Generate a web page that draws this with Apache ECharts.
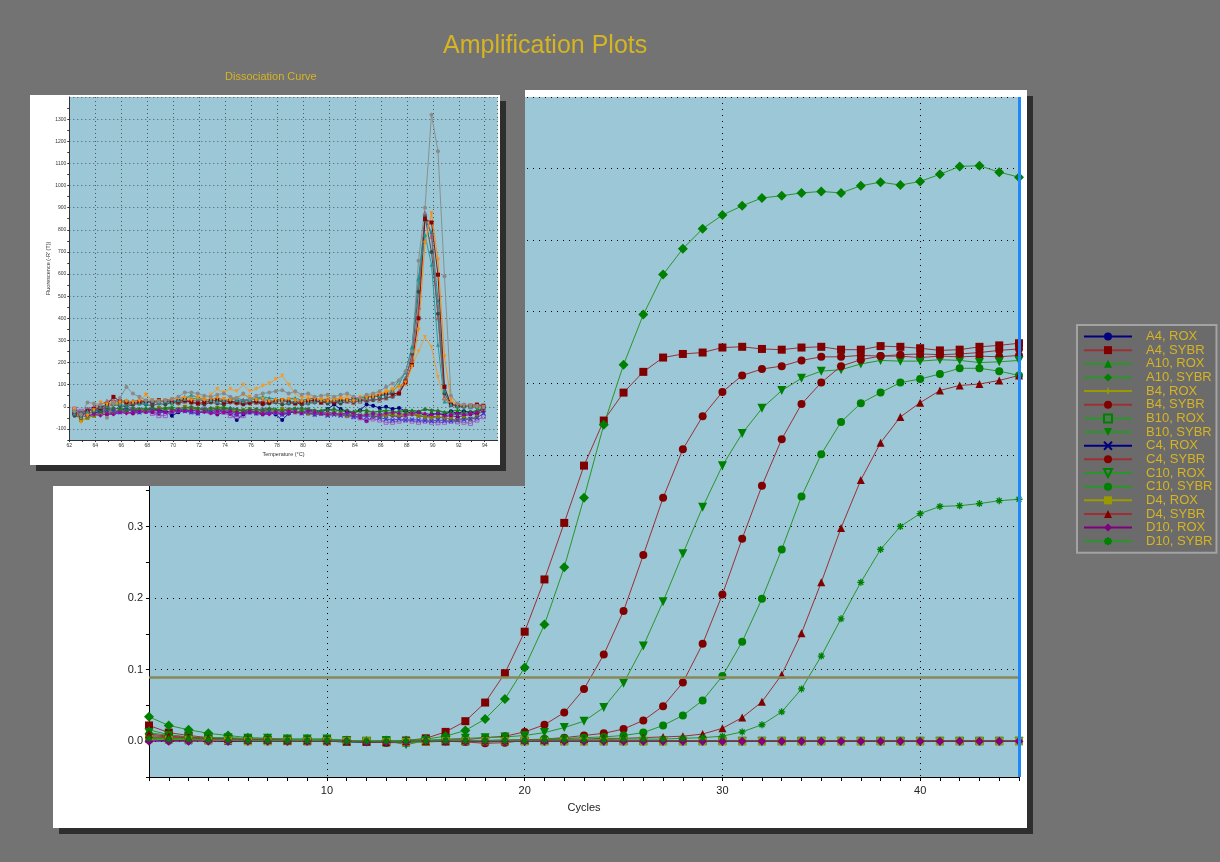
<!DOCTYPE html>
<html>
<head>
<meta charset="utf-8">
<title>Amplification Plots</title>
<script src="https://cdn.jsdelivr.net/npm/echarts@6/dist/echarts.min.js"></script>
<style>
  html, body { margin: 0; padding: 0; background: #737373; }
  #chart { width: 1220px; height: 862px; }
</style>
</head>
<body>
<div id="chart"></div>
<script>
// ---- amplification data (cycles 1..45) ----
const cycles = [1,2,3,4,5,6,7,8,9,10,11,12,13,14,15,16,17,18,19,20,21,22,23,24,25,26,27,28,29,30,31,32,33,34,35,36,37,38,39,40,41,42,43,44,45]

const a4Rox = [0.002,0.001,0.001,0.001,0.000,0.000,0.000,0.000,0.000,0.000,
  0.000,-0.001,-0.001,-0.001,0.000,0.000,0.000,-0.001,0.000,0.000,
  0.000,0.000,0.000,0.000,0.000,0.000,0.000,0.000,0.000,0.000,
  0.000,0.000,0.000,0.000,0.000,0.000,0.000,0.000,0.000,0.000,
  0.000,0.000,0.000,0.000,0.000]
const a4Sybr = [0.022,0.012,0.008,0.005,0.004,0.003,0.002,0.002,0.001,0.002,
  0.001,0.000,0.000,0.001,0.004,0.013,0.028,0.054,0.095,0.153,
  0.226,0.305,0.385,0.448,0.487,0.516,0.536,0.541,0.543,0.550,
  0.551,0.548,0.547,0.550,0.551,0.547,0.547,0.552,0.551,0.549,
  0.546,0.547,0.551,0.553,0.556]
const a10Rox = [0.016,0.009,0.006,0.004,0.003,0.002,0.002,0.001,0.001,0.001,
  0.000,-0.001,-0.001,-0.001,0.000,0.000,0.000,0.000,0.000,0.001,
  0.001,0.001,0.001,0.001,0.001,0.001,0.001,0.001,0.001,0.001,
  0.001,0.001,0.001,0.001,0.001,0.001,0.001,0.001,0.001,0.001,
  0.001,0.001,0.001,0.001,0.001]
const a10Sybr = [0.034,0.022,0.016,0.011,0.008,0.005,0.004,0.003,0.003,0.003,
  0.001,0.000,0.001,0.001,0.003,0.007,0.015,0.031,0.059,0.103,
  0.163,0.243,0.340,0.442,0.526,0.596,0.652,0.688,0.716,0.735,
  0.748,0.759,0.762,0.766,0.768,0.766,0.776,0.781,0.777,0.782,
  0.792,0.803,0.804,0.795,0.788]
const b4Rox = [0.004,0.002,0.001,0.001,0.001,0.000,0.000,0.000,0.000,0.000,
  0.000,0.000,-0.001,-0.001,0.000,0.000,0.000,0.000,0.000,0.000,
  0.000,0.000,0.000,0.000,0.000,0.000,0.000,0.000,0.000,0.000,
  0.000,0.000,0.000,0.000,0.000,0.000,0.000,0.000,0.000,0.000,
  0.000,0.000,0.000,0.000,0.000]
const b4Sybr = [0.008,0.006,0.005,0.004,0.003,0.002,0.002,0.001,0.001,0.001,
  0.000,-0.001,-0.001,0.000,0.001,0.002,0.002,0.005,0.007,0.013,
  0.023,0.040,0.073,0.121,0.182,0.260,0.340,0.408,0.454,0.488,
  0.511,0.520,0.524,0.532,0.537,0.537,0.539,0.538,0.538,0.536,
  0.538,0.537,0.538,0.537,0.539]
const b10Rox = [0.006,0.004,0.003,0.002,0.002,0.001,0.001,0.001,0.000,0.000,
  -0.001,-0.001,-0.002,-0.002,-0.001,0.000,0.000,0.000,0.000,0.000,
  0.000,0.000,0.000,0.000,0.000,0.000,0.000,0.000,0.000,0.000,
  0.000,0.000,0.000,0.000,0.000,0.000,0.000,0.000,0.000,0.000,
  0.000,0.000,0.000,0.000,0.000]
const b10Sybr = [0.012,0.008,0.006,0.005,0.005,0.004,0.004,0.003,0.003,0.003,
  0.001,0.000,0.001,-0.005,0.001,0.003,0.004,0.005,0.006,0.008,
  0.012,0.019,0.028,0.047,0.081,0.133,0.195,0.262,0.327,0.385,
  0.430,0.465,0.490,0.507,0.517,0.519,0.527,0.532,0.531,0.531,
  0.533,0.532,0.529,0.530,0.532]
const c4Rox = [0.003,0.002,0.001,0.001,0.000,0.000,0.000,0.000,0.000,0.000,
  -0.001,-0.001,-0.001,0.000,0.000,0.000,0.000,0.000,0.000,0.000,
  0.000,0.000,0.000,0.000,0.000,0.000,0.000,0.000,0.000,0.000,
  0.000,0.000,0.000,0.000,0.000,0.000,0.000,0.000,0.000,0.000,
  0.000,0.000,0.000,0.000,0.000]
const c4Sybr = [0.006,0.005,0.004,0.003,0.002,0.002,0.001,0.001,0.001,0.001,
  0.000,-0.001,-0.002,-0.001,0.000,0.000,-0.001,-0.003,-0.002,0.001,
  0.003,0.005,0.008,0.011,0.017,0.029,0.049,0.082,0.136,0.205,
  0.283,0.357,0.422,0.471,0.501,0.524,0.533,0.538,0.540,0.541,
  0.540,0.541,0.543,0.546,0.548]
const c10Rox = [0.005,0.003,0.002,0.002,0.001,0.001,0.000,0.000,0.000,0.000,
  0.000,-0.001,-0.001,-0.001,0.000,0.000,0.000,0.000,0.000,0.000,
  0.000,0.000,0.000,0.000,0.000,0.000,0.000,0.000,0.000,0.000,
  0.000,0.000,0.000,0.000,0.000,0.000,0.000,0.000,0.000,0.000,
  0.000,0.000,0.000,0.000,0.000]
const c10Sybr = [0.005,0.004,0.003,0.003,0.002,0.002,0.001,0.001,0.001,0.001,
  0.000,0.000,0.000,0.000,0.001,0.001,0.001,0.001,0.002,0.002,
  0.003,0.004,0.005,0.006,0.008,0.012,0.022,0.036,0.057,0.091,
  0.139,0.199,0.268,0.342,0.401,0.446,0.472,0.487,0.501,0.506,
  0.513,0.521,0.521,0.517,0.511]
const d4Rox = [0.003,0.002,0.002,0.001,0.001,0.000,0.000,0.000,0.000,0.000,
  0.000,0.000,-0.001,-0.001,-0.001,0.000,0.000,0.000,0.000,0.000,
  0.000,0.000,0.000,0.000,0.000,0.000,0.000,0.000,0.000,0.000,
  0.000,0.000,0.000,0.000,0.000,0.000,0.000,0.000,0.000,0.000,
  0.000,0.000,0.000,0.000,0.000]
const d4Sybr = [0.010,0.007,0.005,0.004,0.003,0.002,0.002,0.001,0.001,0.001,
  0.000,0.000,-0.001,0.000,0.000,0.000,0.001,0.001,0.001,0.002,
  0.002,0.003,0.003,0.004,0.004,0.005,0.006,0.007,0.010,0.018,
  0.033,0.055,0.093,0.151,0.222,0.298,0.365,0.417,0.453,0.473,
  0.490,0.497,0.499,0.504,0.511]
const d10Rox = [0.000,0.000,0.000,0.000,0.000,0.000,0.000,0.000,0.000,0.000,
  0.000,-0.001,-0.001,-0.001,0.000,0.000,0.000,0.000,0.000,0.000,
  0.000,0.000,0.000,0.000,0.000,0.000,0.000,0.000,0.000,0.000,
  0.000,0.000,0.000,0.000,0.000,0.000,0.000,0.000,0.000,0.000,
  0.000,0.000,0.000,0.000,0.000]
const d10Sybr = [0.004,0.003,0.003,0.002,0.002,0.001,0.001,0.001,0.001,0.001,
  0.000,0.000,0.000,0.000,0.000,0.001,0.001,0.001,0.001,0.001,
  0.002,0.002,0.002,0.002,0.003,0.003,0.003,0.004,0.005,0.007,
  0.013,0.023,0.041,0.073,0.119,0.171,0.222,0.268,0.300,0.318,
  0.328,0.329,0.332,0.336,0.338]

const thresholdValue = 0.087
const cursorCycle = 45

// ---- dissociation curve data (temperature, -R'(T)) ----
const temps = [62.4,62.9,63.4,63.9,64.4,64.9,65.4,65.9,66.4,66.9,
  67.4,67.9,68.4,68.9,69.4,69.9,70.4,70.9,71.4,71.9,
  72.4,72.9,73.4,73.9,74.4,74.9,75.4,75.9,76.4,76.9,
  77.4,77.9,78.4,78.9,79.4,79.9,80.4,80.9,81.4,81.9,
  82.4,82.9,83.4,83.9,84.4,84.9,85.4,85.9,86.4,86.9,
  87.4,87.9,88.4,88.9,89.4,89.9,90.4,90.9,91.4,91.9,
  92.4,92.9,93.4,93.9]

const dcGray = [-20,-35,20,15,10,-50,15,40,90,60,
  45,30,30,25,30,35,45,65,65,60,
  50,45,55,60,45,40,60,35,50,60,
  65,70,75,60,70,55,60,45,50,55,
  45,55,60,45,40,55,60,70,90,105,
  120,160,250,660,900,1320,1155,590,50,15,
  10,5,5,0]
const dcOrange = [-10,-70,-40,-15,20,10,15,20,25,20,
  25,55,30,25,30,35,40,40,30,40,
  30,35,40,35,30,40,55,45,30,35,
  25,30,30,35,30,25,30,35,30,25,
  30,35,30,25,35,40,45,55,65,75,
  90,110,182,348,740,875,664,227,30,10,
  5,5,0,0]
const dcLightOrange = [-20,-50,-30,-10,0,5,10,15,20,15,
  20,25,20,25,30,30,35,40,45,50,
  40,55,80,65,80,70,100,70,80,95,
  105,125,140,100,60,40,45,40,35,40,
  35,40,45,40,45,50,55,60,70,80,
  95,100,185,250,315,270,135,30,15,10,
  5,5,0,0]
const dcTeal = [-30,-40,-20,-10,0,10,20,25,30,20,
  15,20,25,20,25,20,30,35,55,40,
  35,30,25,30,35,30,25,30,35,40,
  30,25,30,20,25,30,20,25,30,25,
  30,25,30,35,30,40,45,50,55,70,
  100,160,265,574,777,642,280,24,10,5,
  5,0,0,0]
const dcRed = [-30,-40,-20,-10,-5,10,45,25,20,15,
  20,25,20,30,25,20,25,30,20,15,
  20,25,30,20,25,20,15,20,25,15,
  20,25,30,20,15,20,25,30,20,25,
  20,25,30,35,30,40,45,50,55,60,
  60,110,190,400,848,833,597,90,10,5,
  5,5,10,5]
const dcMauve = [-20,-30,-10,0,10,25,30,25,20,25,
  30,25,20,25,30,25,20,25,30,25,
  30,35,25,30,25,20,30,25,20,25,
  30,25,30,25,20,25,30,25,20,30,
  25,30,25,20,25,30,35,30,40,50,
  70,130,215,450,875,770,402,40,10,5,
  5,0,5,0]
const dcSlate = [-40,-50,-30,-20,-10,0,10,5,0,10,
  15,10,5,15,10,20,15,25,20,15,
  10,20,15,10,20,15,10,15,20,10,
  15,20,10,15,20,10,15,20,25,15,
  20,15,25,20,30,25,30,35,40,45,
  60,120,240,520,860,700,420,60,10,0,
  0,5,0,0]
const dcCyan = [-25,-45,-35,-15,0,5,15,10,5,15,
  20,15,25,20,30,25,35,45,40,35,
  30,35,40,30,35,40,30,35,40,45,
  40,35,30,35,40,30,35,40,30,35,
  40,35,30,35,40,45,50,55,60,80,
  120,155,270,580,845,790,480,70,15,5,
  5,5,0,5]
const dcNavy = [-30,-40,-20,-30,-20,-25,-30,-15,-10,-15,
  -20,-15,-10,-15,-20,-40,-25,-15,-20,-10,
  -15,-20,-10,-20,-30,-60,-35,-25,-20,-30,
  -25,-35,-60,-30,-20,-25,-15,-20,-25,-10,
  10,-10,-20,-30,-15,10,5,-5,0,-10,
  -5,-20,-30,-25,-40,-35,-30,-35,-20,-30,
  -20,-25,-30,0]
const dcPurple = [-30,-35,-40,-35,-30,-35,-30,-25,-25,-30,
  -25,-20,-25,-30,-20,-25,-20,-15,-25,-30,
  -20,-25,-35,-25,-30,-35,-20,-25,-30,-35,
  -30,-25,-35,-30,-20,-25,-30,-35,-30,-25,
  -30,-35,-30,-40,-50,-65,-45,-40,-35,-40,
  -45,-40,-35,-40,-45,-40,-50,-45,-40,-45,
  -40,-35,-30,-20]
const dcViolet = [-10,-20,-15,-10,-5,-10,-15,-20,-15,-10,
  -15,-20,-30,-40,-40,-20,-15,-10,-20,-15,
  -10,-15,-20,-25,-40,-45,-40,-25,-20,-15,
  -20,-25,-20,-15,-20,-25,-20,-25,-30,-35,
  -30,-35,-40,-45,-50,-60,-55,-60,-70,-70,
  -65,-60,-65,-70,-65,-70,-72,-70,-65,-68,
  -70,-75,-60,-45]
const dcOlive = [-20,-60,-50,-40,-30,-20,-25,-15,-20,-10,
  -15,-20,-10,-5,-10,-15,-10,0,-5,-10,
  -15,-10,-5,-10,-15,-20,-15,-10,-15,-20,
  -15,-20,-10,-15,-25,-20,-30,-25,-30,-35,
  -30,-35,-40,-30,-40,-35,-40,-45,-40,-35,
  -40,-35,-30,-40,-45,-50,-45,-50,-55,-60,
  -50,-55,-45,-10]
const dcGreen = [-20,-30,-15,-10,-20,-15,-10,-5,-10,-15,
  -10,-5,-10,-15,-5,0,-10,-15,-5,-10,
  -15,-10,-5,0,-10,-15,-20,-10,-15,-10,
  -5,-10,-15,-10,-5,-15,-10,-20,-15,-10,
  -20,-15,-25,-20,-15,-20,-25,-20,-15,-20,
  -25,-20,-15,-20,-10,-20,-15,-25,-20,-15,
  -20,-25,-15,-5]
const dcBlue = [-25,-35,-30,-25,-20,-15,-20,-25,-15,-20,
  -25,-20,-15,-20,-25,-20,-15,-20,-25,-30,
  -20,-25,-20,-15,-20,-30,-25,-20,-30,-25,
  -20,-30,-35,-25,-20,-30,-25,-35,-30,-40,
  -35,-40,-35,-45,-40,-45,-40,-50,-55,-60,
  -55,-60,-58,-60,-62,-65,-60,-62,-65,-60,
  -58,-55,-50,-30]
const dcDarkGreen = [-15,-25,-20,-10,-15,-10,-5,-10,-15,-5,
  -10,-15,-5,-10,-5,-10,-15,-5,0,-5,
  -10,-5,-15,-10,-5,-10,-15,-20,-10,-15,
  -10,-15,-20,-15,-10,-5,-10,-15,-20,-15,
  -10,-20,-15,-25,-20,-15,-25,-20,-25,-30,
  -20,-15,-20,-25,-10,-15,-20,-25,-30,-35,
  -30,-25,-20,-10]
const dcMagenta = [-35,-45,-40,-35,-40,-30,-35,-25,-30,-25,
  -20,-25,-20,-15,-25,-20,-15,-20,-15,-20,
  -25,-30,-20,-25,-20,-25,-30,-20,-25,-30,
  -35,-25,-30,-20,-25,-30,-20,-25,-30,-35,
  -30,-35,-25,-30,-40,-35,-30,-35,-30,-25,
  -30,-35,-30,-25,-30,-35,-30,-40,-35,-30,
  -35,-30,-25,-10]

// ---- styles ----
const GOLD = '#d6b422'
const FONT = 'Liberation Sans, Arial, sans-serif'
const PLOT_BG = '#9bc7d6'
const RED = '#800000', RED_LINE = '#9c3036'
const GREEN = '#008000', GREEN_LINE = '#2a952a'
const NAVY = '#000080', OLIVE = '#9a9a00', PURPLE = '#800080'

const SYM_STAR4 = 'path://M5,0L6.3,3.7L10,5L6.3,6.3L5,10L3.7,6.3L0,5L3.7,3.7Z'
const SYM_X = 'path://M0,0L10,10M10,0L0,10'
const SYM_ASTER = 'path://M5,0L5,10M0,5L10,5M1.5,1.5L8.5,8.5M8.5,1.5L1.5,8.5'

// hollow: outline only, no fill; stroke: line-only glyphs
const mainDefs = [
  { name: 'A4, ROX', values: a4Rox, color: NAVY, line: NAVY, symbol: 'circle', size: 8 },
  { name: 'A4, SYBR', values: a4Sybr, color: RED, line: RED_LINE, symbol: 'rect', size: 8 },
  { name: 'A10, ROX', values: a10Rox, color: GREEN, line: GREEN_LINE, symbol: 'triangle', size: 8 },
  { name: 'A10, SYBR', values: a10Sybr, color: GREEN, line: GREEN_LINE, symbol: 'diamond', size: 10 },
  { name: 'B4, ROX', values: b4Rox, color: OLIVE, line: OLIVE, symbol: SYM_STAR4, size: 8 },
  { name: 'B4, SYBR', values: b4Sybr, color: RED, line: RED_LINE, symbol: 'circle', size: 8 },
  { name: 'B10, ROX', values: b10Rox, color: GREEN, line: GREEN_LINE, symbol: 'rect', size: 7, hollow: true },
  { name: 'B10, SYBR', values: b10Sybr, color: GREEN, line: GREEN_LINE, symbol: 'triangle', size: 9, rotate: 180 },
  { name: 'C4, ROX', values: c4Rox, color: NAVY, line: NAVY, symbol: SYM_X, size: 7, stroke: true },
  { name: 'C4, SYBR', values: c4Sybr, color: RED, line: RED_LINE, symbol: 'circle', size: 8 },
  { name: 'C10, ROX', values: c10Rox, color: GREEN, line: GREEN_LINE, symbol: 'triangle', size: 8, rotate: 180, hollow: true },
  { name: 'C10, SYBR', values: c10Sybr, color: GREEN, line: GREEN_LINE, symbol: 'circle', size: 8 },
  { name: 'D4, ROX', values: d4Rox, color: OLIVE, line: OLIVE, symbol: 'rect', size: 8 },
  { name: 'D4, SYBR', values: d4Sybr, color: RED, line: RED_LINE, symbol: 'triangle', size: 8 },
  { name: 'D10, ROX', values: d10Rox, color: PURPLE, line: PURPLE, symbol: 'diamond', size: 9 },
  { name: 'D10, SYBR', values: d10Sybr, color: GREEN, line: GREEN_LINE, symbol: SYM_ASTER, size: 7, stroke: true }
]

const dcDefs = [
  { values: dcNavy, color: '#000080', symbol: 'circle' },
  { values: dcPurple, color: '#800080', symbol: 'circle' },
  { values: dcViolet, color: '#9a48c0', symbol: 'rect', hollow: true },
  { values: dcOlive, color: '#7f7f00', symbol: 'rect' },
  { values: dcGreen, color: '#008a00', symbol: 'triangle' },
  { values: dcBlue, color: '#3a3ad0', symbol: SYM_X, stroke: true },
  { values: dcDarkGreen, color: '#2e6e2e', symbol: 'diamond' },
  { values: dcMagenta, color: '#a000a0', symbol: 'diamond' },
  { values: dcSlate, color: '#3a4a4a', symbol: 'circle' },
  { values: dcCyan, color: '#118c8c', symbol: 'triangle' },
  { values: dcLightOrange, color: '#f39a2e', symbol: 'triangle', rotate: 180 },
  { values: dcMauve, color: '#a0505a', symbol: 'triangle', hollow: true },
  { values: dcRed, color: '#8b0000', symbol: 'rect' },
  { values: dcTeal, color: '#1a9a9a', symbol: 'triangle' },
  { values: dcOrange, color: '#ff8a00', symbol: 'triangle', rotate: 180 },
  { values: dcGray, color: '#8a8a8a', symbol: 'circle' }
]

function markStyle (d, width) {
  if (d.hollow) return { color: 'rgba(0,0,0,0)', borderColor: d.color, borderWidth: width }
  if (d.stroke) return { color: d.color, borderColor: d.color, borderWidth: width + 0.3 }
  return { color: d.color }
}

function mainSeries () {
  return mainDefs.map((d, idx) => {
    const s = {
      name: d.name,
      type: 'line',
      xAxisIndex: 0,
      yAxisIndex: 0,
      zlevel: 0,
      z: 4,
      data: cycles.map((c, i) => [c, d.values[i]]),
      symbol: d.symbol,
      symbolSize: d.size,
      symbolRotate: d.rotate || 0,
      showAllSymbol: true,
      lineStyle: { color: d.line, width: 1 },
      itemStyle: markStyle(d, 1),
      emphasis: { disabled: true },
      animation: false
    }
    if (idx === 0) {
      s.markLine = {
        silent: true,
        symbol: 'none',
        label: { show: false },
        animation: false,
        data: [
          { yAxis: thresholdValue, lineStyle: { color: '#88885a', width: 2.5, type: 'solid' } },
          { xAxis: cursorCycle, lineStyle: { color: '#1e88ff', width: 3, type: 'solid' } }
        ]
      }
    }
    return s
  })
}

function dcSeries () {
  return dcDefs.map((d, idx) => ({
    name: 'dc' + idx,
    type: 'line',
    xAxisIndex: 2,
    yAxisIndex: 2,
    zlevel: 1,
    z: 5,
    data: temps.map((t, i) => [t, d.values[i]]),
    symbol: d.symbol,
    symbolSize: 4,
    symbolRotate: d.rotate || 0,
    showAllSymbol: true,
    lineStyle: { color: d.color, width: 1, opacity: 0.9 },
    itemStyle: markStyle(d, 0.8),
    emphasis: { disabled: true },
    animation: false
  }))
}

const chart = echarts.init(document.getElementById('chart'))
chart.setOption({
  backgroundColor: '#737373',
  animation: false,
  title: [
    {
      text: 'Amplification Plots',
      left: 438,
      top: 29,
      zlevel: 1,
      z: 8,
      textStyle: { color: GOLD, fontSize: 25, fontWeight: 'normal', fontFamily: FONT }
    },
    {
      text: 'Dissociation Curve',
      left: 220,
      top: 66,
      zlevel: 1,
      z: 8,
      textStyle: { color: GOLD, fontSize: 11, fontWeight: 'normal', fontFamily: FONT }
    }
  ],
  graphic: [
    { type: 'rect', zlevel: 0, z: 0, silent: true, shape: { x: 59, y: 96, width: 974, height: 738 }, style: { fill: '#2e2e2e' } },
    { type: 'rect', zlevel: 0, z: 1, silent: true, shape: { x: 53, y: 90, width: 974, height: 738 }, style: { fill: '#ffffff' } },
    { type: 'rect', zlevel: 1, z: 0, silent: true, shape: { x: 0, y: 0, width: 525, height: 486 }, style: { fill: '#737373' } },
    { type: 'rect', zlevel: 1, z: 1, silent: true, shape: { x: 36, y: 101, width: 470, height: 370 }, style: { fill: '#2e2e2e' } },
    { type: 'rect', zlevel: 1, z: 2, silent: true, shape: { x: 30, y: 95, width: 470, height: 370 }, style: { fill: '#ffffff' } }
  ],
  legend: {
    data: mainDefs.map(d => d.name),
    orient: 'vertical',
    left: 1077,
    top: 325,
    padding: [5, 4, 5, 6],
    itemWidth: 48,
    itemHeight: 10,
    itemGap: 0.65,
    backgroundColor: '#6b6b6b',
    borderColor: '#a3a3a3',
    borderWidth: 2,
    selectedMode: false,
    zlevel: 0,
    z: 6,
    textStyle: { color: GOLD, fontSize: 13, lineHeight: 12, fontFamily: FONT, padding: [0, 0, 0, 9] }
  },
  grid: [
    { left: 149, top: 97, width: 870, height: 680, show: true, backgroundColor: PLOT_BG, borderWidth: 0, zlevel: 0, z: 2 },
    { left: 69.3, top: 97, width: 428.4, height: 343, show: true, backgroundColor: PLOT_BG, borderWidth: 0, zlevel: 1, z: 3 }
  ],
  xAxis: [
    {
      type: 'value', gridIndex: 0, position: 'bottom', min: 1, max: 45, interval: 1,
      zlevel: 0, z: 3,
      axisLine: { show: true, onZero: false, lineStyle: { color: '#000', width: 1 } },
      axisTick: { show: true, length: 4, lineStyle: { color: '#000' } },
      axisLabel: { show: false },
      splitLine: { show: false }
    },
    {
      type: 'value', gridIndex: 0, position: 'bottom', min: 1, max: 45,
      zlevel: 0, z: 3,
      name: 'Cycles', nameLocation: 'middle', nameGap: 25,
      nameTextStyle: { color: '#222', fontSize: 11, fontFamily: FONT },
      axisLine: { show: false },
      axisTick: { show: false },
      axisLabel: { show: true, showMinLabel: false, showMaxLabel: false, margin: 8, color: '#222', fontSize: 11, fontFamily: FONT },
      splitLine: { show: true, lineStyle: { color: '#000', width: 1, type: [1, 5] } }
    },
    {
      type: 'value', gridIndex: 1, position: 'bottom', min: 62, max: 95, interval: 1,
      zlevel: 1, z: 4,
      name: 'Temperature (°C)', nameLocation: 'middle', nameGap: 11,
      nameTextStyle: { color: '#333', fontSize: 5.5, fontFamily: FONT },
      axisLine: { show: true, onZero: false, lineStyle: { color: '#333', width: 1 } },
      axisTick: { show: true, length: 2, lineStyle: { color: '#333' } },
      axisLabel: {
        show: true, margin: 3, color: '#333', fontSize: 5, fontFamily: FONT, showMaxLabel: false,
        formatter: v => (Math.round(v) % 2 === 0 ? String(Math.round(v)) : '')
      },
      splitLine: { show: false }
    },
    {
      type: 'value', gridIndex: 1, position: 'bottom', min: 62, max: 95, splitNumber: 16,
      zlevel: 1, z: 4,
      axisLine: { show: false },
      axisTick: { show: false },
      axisLabel: { show: false },
      splitLine: { show: true, lineStyle: { color: '#4d5a60', width: 1, type: [1, 3] } }
    }
  ],
  yAxis: [
    {
      type: 'value', gridIndex: 0, position: 'left', min: -0.05, max: 0.9, interval: 0.05,
      zlevel: 0, z: 3,
      axisLine: { show: true, onZero: false, lineStyle: { color: '#000', width: 1 } },
      axisTick: { show: true, length: 3, lineStyle: { color: '#000' } },
      axisLabel: {
        show: true, margin: 6, color: '#222', fontSize: 11, fontFamily: FONT,
        formatter: v => {
          const n = Math.round(v * 100)
          return n % 10 === 0 ? (n / 100).toFixed(1) : ''
        }
      },
      splitLine: { show: false }
    },
    {
      type: 'value', gridIndex: 0, position: 'left', min: -0.05, max: 0.9, splitNumber: 9,
      zlevel: 0, z: 3,
      axisLine: { show: false },
      axisTick: { show: false },
      axisLabel: { show: false },
      splitLine: { show: true, lineStyle: { color: '#000', width: 1, type: [1, 5] } }
    },
    {
      type: 'value', gridIndex: 1, position: 'left', min: -150, max: 1400, interval: 50,
      zlevel: 1, z: 4,
      name: 'Fluorescence (-R\' (T))', nameLocation: 'middle', nameGap: 16,
      nameTextStyle: { color: '#333', fontSize: 5.5, fontFamily: FONT },
      axisLine: { show: true, onZero: false, lineStyle: { color: '#333', width: 1 } },
      axisTick: { show: true, length: 2, lineStyle: { color: '#333' } },
      axisLabel: {
        show: true, margin: 3, color: '#333', fontSize: 5, fontFamily: FONT, showMaxLabel: false,
        formatter: v => (Math.round(v) % 100 === 0 ? String(Math.round(v)) : '')
      },
      splitLine: { show: false }
    },
    {
      type: 'value', gridIndex: 1, position: 'left', min: -150, max: 1400, splitNumber: 15,
      zlevel: 1, z: 4,
      axisLine: { show: false },
      axisTick: { show: false },
      axisLabel: { show: false },
      splitLine: { show: true, lineStyle: { color: '#4d5a60', width: 1, type: [1, 3] } }
    }
  ],
  series: mainSeries().concat(dcSeries())
})
</script>
</body>
</html>
